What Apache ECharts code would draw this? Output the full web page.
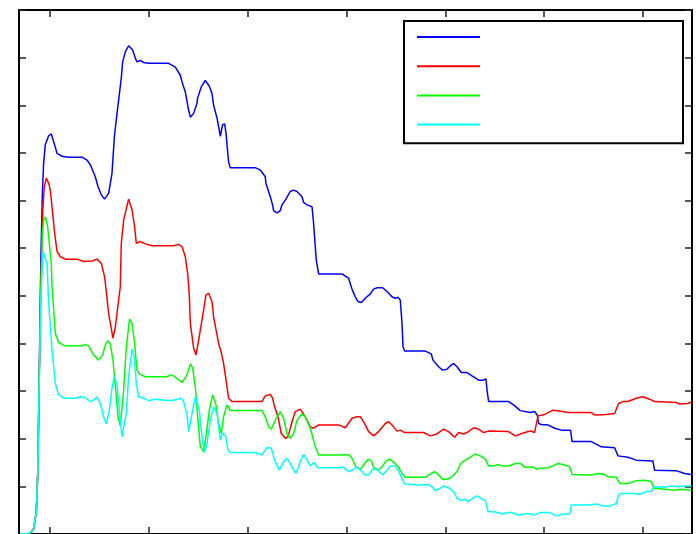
<!DOCTYPE html>
<html>
<head>
<meta charset="utf-8">
<script src="https://cdn.jsdelivr.net/npm/echarts@6/dist/echarts.min.js"></script>
<style>
  html, body { margin: 0; padding: 0; background: #fff; }
  #main { width: 696px; height: 534px; }
</style>
</head>
<body>
<div id="main"></div>
<script>
// 坐标轴刻度位置
var xTicks = [0, 100, 200, 300, 400, 500, 600];
var yTicks = [0, 1, 2, 3, 4, 5, 6, 7, 8, 9, 10, 11];

// 四条曲线共用的起始段
var startPart = [[-30, 0], [-22, 0], [-16.9, 0.08], [-13.9, 0.46], [-12.3, 1.34], [-11.3, 2.81]];

var blueData = [
    [-9.3, 5.75], [-7.8, 7.12], [-6.5, 7.78], [-4.8, 8.17], [-1.4, 8.36], [1.3, 8.40], [3.6, 8.24],
    [7.1, 7.99], [12.1, 7.93], [18.8, 7.91], [32.4, 7.91], [37.4, 7.85], [40.8, 7.75], [45.8, 7.50],
    [48.6, 7.29], [51.9, 7.12], [55.2, 7.03], [59.3, 7.15], [62.7, 7.57], [65.1, 8.34], [67.8, 8.83],
    [72.1, 9.57], [73.5, 9.91], [76.2, 10.12], [79.5, 10.25], [83.6, 10.16], [86.3, 9.99], [88.0, 9.91],
    [91.4, 9.94], [94.7, 9.90], [99.8, 9.88], [120.0, 9.88], [126.8, 9.80], [131.8, 9.63], [133.6, 9.49],
    [136.9, 9.28], [140.2, 8.90], [142.0, 8.75], [145.3, 8.83], [148.7, 9.04], [149.3, 9.15], [153.1, 9.39],
    [157.1, 9.52], [161.2, 9.40], [163.9, 9.25], [165.5, 9.00], [169.0, 8.73], [172.3, 8.35], [174.6, 8.59],
    [176.7, 8.61], [178.1, 8.41], [179.1, 8.17], [180.7, 7.81], [182.4, 7.69], [207.7, 7.69], [212.8, 7.64],
    [217.8, 7.50], [218.5, 7.36], [222.9, 7.08], [225.2, 6.91], [226.2, 6.79], [229.7, 6.74], [233.0, 6.79],
    [234.7, 6.91], [238.1, 7.01], [243.1, 7.19], [246.5, 7.22], [249.9, 7.19], [255.0, 7.08], [256.6, 6.96],
    [260.0, 6.91], [265.1, 6.87], [266.7, 6.52], [269.4, 5.75], [271.8, 5.46], [295.4, 5.46], [302.1, 5.37],
    [305.9, 5.12], [308.9, 4.98], [311.6, 4.88], [315.0, 4.86], [319.0, 4.95], [324.1, 5.04], [327.4, 5.14],
    [330.9, 5.17], [336.5, 5.17], [341.0, 5.09], [346.0, 4.98], [349.4, 4.95], [352.1, 4.97], [354.4, 4.91],
    [356.2, 4.42], [357.2, 3.93], [358.8, 3.84], [379.7, 3.84], [385.8, 3.78], [387.5, 3.65], [393.2, 3.51],
    [397.2, 3.44], [401.7, 3.46], [405.0, 3.53], [408.4, 3.58], [411.8, 3.51], [416.2, 3.39], [421.9, 3.39],
    [427.0, 3.32], [433.7, 3.23], [438.7, 3.23], [441.1, 3.26], [442.2, 3.02], [443.8, 2.78], [464.0, 2.78],
    [469.1, 2.71], [475.8, 2.59], [486.0, 2.55], [490.3, 2.57], [493.0, 2.50], [494.4, 2.32], [497.1, 2.30],
    [503.9, 2.29], [510.6, 2.22], [517.4, 2.18], [526.7, 2.18], [528.2, 1.94], [547.7, 1.94], [557.8, 1.83],
    [571.3, 1.81], [574.7, 1.64], [584.8, 1.61], [593.2, 1.55], [610.1, 1.53], [611.7, 1.34], [633.6, 1.33],
    [642.1, 1.27], [648.9, 1.25]
];

var redData = [
    [-9.3, 5.33], [-7.3, 6.80], [-5.8, 7.29], [-3.7, 7.47], [-1.4, 7.36], [0.3, 7.22], [2.0, 6.87],
    [4.7, 6.31], [7.1, 5.93], [10.4, 5.82], [15.5, 5.77], [27.3, 5.77], [34.0, 5.72], [42.5, 5.73],
    [47.6, 5.77], [51.9, 5.68], [55.2, 5.40], [56.0, 5.26], [59.3, 4.63], [63.7, 4.11], [66.1, 4.35],
    [71.1, 5.19], [72.1, 6.10], [74.5, 6.59], [79.5, 7.03], [83.0, 6.80], [85.6, 6.45], [87.3, 6.10],
    [91.4, 6.14], [96.4, 6.09], [103.2, 6.05], [125.1, 6.05], [130.1, 6.08], [133.6, 6.03], [136.9, 5.82],
    [139.4, 5.44], [140.9, 5.02], [142.0, 4.42], [145.3, 3.90], [147.7, 3.76], [150.4, 4.07], [155.4, 4.70],
    [157.8, 5.02], [160.5, 5.05], [163.9, 4.88], [165.5, 4.56], [170.6, 4.00], [173.3, 3.81], [175.6, 3.58],
    [178.1, 3.23], [180.7, 2.85], [184.1, 2.78], [214.5, 2.78], [217.8, 2.90], [222.9, 2.93], [225.2, 2.85],
    [227.2, 2.67], [230.7, 2.46], [234.0, 2.11], [238.1, 2.01], [240.8, 2.04], [244.9, 2.36], [248.2, 2.57],
    [253.3, 2.62], [258.3, 2.46], [263.4, 2.25], [266.7, 2.22], [271.8, 2.29], [292.0, 2.29], [298.8, 2.23],
    [305.6, 2.43], [310.6, 2.46], [314.0, 2.46], [317.3, 2.36], [322.4, 2.15], [327.4, 2.06], [332.5, 2.15],
    [339.3, 2.32], [342.6, 2.36], [346.0, 2.29], [351.1, 2.16], [354.4, 2.18], [358.8, 2.13], [378.0, 2.13],
    [384.8, 2.06], [391.6, 2.10], [398.2, 2.20], [403.3, 2.15], [409.4, 2.03], [413.4, 2.13], [418.5, 2.10],
    [423.5, 2.15], [428.6, 2.23], [433.7, 2.20], [438.7, 2.13], [443.8, 2.16], [464.0, 2.15], [470.8, 2.06],
    [477.6, 2.11], [483.7, 2.15], [487.0, 2.16], [490.3, 2.13], [492.0, 2.15], [493.8, 2.48], [495.4, 2.50],
    [500.5, 2.51], [509.0, 2.60], [515.7, 2.58], [524.2, 2.55], [547.7, 2.55], [551.1, 2.50], [562.9, 2.51],
    [571.3, 2.53], [575.3, 2.74], [579.8, 2.78], [584.8, 2.78], [593.2, 2.85], [600.0, 2.88], [606.7, 2.83],
    [611.7, 2.78], [633.6, 2.76], [637.0, 2.73], [645.4, 2.74], [649.4, 2.78]
];

var greenData = [
    [-9.3, 5.12], [-7.8, 6.28], [-6.5, 6.59], [-4.8, 6.66], [-2.4, 6.45], [-1.4, 6.24], [1.3, 5.68],
    [2.0, 5.19], [5.4, 4.21], [8.7, 4.02], [15.5, 3.95], [32.4, 3.95], [35.7, 3.98], [39.1, 3.95],
    [44.1, 3.76], [49.2, 3.65], [53.2, 3.76], [56.0, 3.97], [58.7, 4.06], [61.0, 3.99], [63.7, 3.65],
    [66.1, 3.09], [68.8, 2.46], [71.1, 2.27], [74.5, 3.02], [77.2, 3.93], [80.5, 4.51], [83.0, 4.42],
    [85.6, 4.00], [88.0, 3.44], [90.4, 3.36], [96.4, 3.30], [118.4, 3.30], [121.7, 3.34], [125.1, 3.32],
    [133.6, 3.18], [138.6, 3.34], [142.0, 3.57], [144.3, 3.48], [147.0, 3.09], [149.7, 2.39], [152.1, 1.83],
    [155.4, 1.73], [157.8, 2.04], [161.2, 2.60], [164.5, 2.92], [167.9, 2.71], [170.6, 2.32], [173.3, 2.11],
    [175.6, 2.46], [179.1, 2.71], [182.4, 2.59], [214.5, 2.59], [217.8, 2.46], [221.2, 2.25], [223.9, 2.20],
    [227.9, 2.39], [233.0, 2.57], [236.4, 2.43], [239.8, 2.11], [243.1, 2.01], [246.5, 2.11], [249.9, 2.39],
    [255.0, 2.52], [258.3, 2.46], [263.4, 2.22], [268.4, 1.83], [271.8, 1.66], [297.1, 1.66], [302.1, 1.67],
    [305.6, 1.59], [309.6, 1.41], [314.0, 1.36], [317.3, 1.45], [321.8, 1.57], [325.1, 1.54], [327.4, 1.40],
    [331.9, 1.33], [335.9, 1.41], [340.0, 1.53], [343.6, 1.57], [347.7, 1.51], [352.7, 1.40], [356.2, 1.27],
    [359.5, 1.19], [379.7, 1.19], [384.8, 1.26], [389.1, 1.31], [393.2, 1.24], [397.2, 1.15], [401.7, 1.15],
    [406.7, 1.20], [411.8, 1.31], [416.2, 1.50], [420.2, 1.55], [425.3, 1.61], [429.7, 1.68], [435.4, 1.64],
    [440.5, 1.57], [443.8, 1.43], [448.8, 1.43], [453.3, 1.46], [457.3, 1.43], [464.0, 1.43], [470.8, 1.48],
    [475.8, 1.48], [480.8, 1.40], [486.0, 1.40], [488.7, 1.41], [492.0, 1.36], [495.4, 1.38], [503.9, 1.39],
    [509.0, 1.43], [514.0, 1.48], [520.7, 1.45], [525.8, 1.41], [528.2, 1.25], [547.7, 1.24], [554.5, 1.27],
    [559.6, 1.26], [564.6, 1.20], [573.0, 1.19], [576.4, 1.06], [584.8, 1.06], [593.2, 1.12], [601.6, 1.13],
    [608.4, 1.10], [611.1, 0.96], [621.9, 0.94], [632.0, 0.92], [638.8, 0.94], [648.9, 0.92]
];

var cyanData = [
    [-9.3, 4.91], [-7.1, 5.93], [-5.5, 5.95], [-3.0, 5.68], [-1.4, 4.84], [2.0, 3.86], [5.4, 3.16],
    [8.7, 2.92], [13.8, 2.85], [25.6, 2.85], [30.7, 2.88], [35.7, 2.86], [40.8, 2.78], [44.1, 2.81],
    [47.6, 2.88], [50.9, 2.74], [54.2, 2.46], [57.0, 2.31], [60.0, 2.60], [62.7, 3.06], [65.1, 3.32],
    [67.8, 3.13], [70.1, 2.60], [72.8, 2.04], [74.5, 2.06], [77.2, 2.53], [79.5, 3.30], [83.0, 3.88],
    [85.3, 3.69], [87.3, 3.16], [89.6, 2.88], [94.7, 2.85], [99.8, 2.80], [106.5, 2.83], [118.4, 2.80],
    [123.4, 2.80], [128.5, 2.83], [132.5, 2.85], [135.2, 2.78], [138.6, 2.50], [140.2, 2.15], [143.7, 2.53],
    [147.0, 2.88], [148.7, 2.92], [151.1, 2.60], [153.8, 2.04], [156.4, 1.71], [158.9, 1.90], [162.2, 2.39],
    [165.5, 2.67], [169.0, 2.53], [172.3, 1.97], [174.6, 2.11], [177.4, 2.08], [180.1, 1.76], [182.4, 1.71],
    [207.7, 1.71], [214.5, 1.66], [219.6, 1.82], [223.9, 1.80], [227.9, 1.52], [232.0, 1.34], [236.4, 1.52],
    [239.8, 1.59], [244.9, 1.41], [248.9, 1.27], [253.3, 1.52], [256.6, 1.67], [260.0, 1.55], [263.4, 1.43],
    [266.7, 1.50], [271.2, 1.39], [292.0, 1.39], [297.1, 1.40], [302.1, 1.31], [307.2, 1.36], [310.6, 1.41],
    [315.7, 1.31], [319.0, 1.24], [322.4, 1.24], [325.8, 1.34], [329.1, 1.38], [332.5, 1.33], [336.5, 1.24],
    [341.0, 1.34], [344.3, 1.43], [348.7, 1.43], [352.1, 1.34], [355.4, 1.20], [358.8, 1.05], [376.4, 1.03],
    [382.5, 1.04], [386.5, 0.99], [389.9, 0.91], [394.9, 0.96], [398.2, 1.01], [403.3, 0.97], [408.4, 0.89],
    [411.8, 0.75], [416.2, 0.70], [419.5, 0.73], [423.0, 0.68], [427.6, 0.75], [432.1, 0.80], [437.1, 0.73],
    [440.5, 0.70], [443.2, 0.47], [450.6, 0.46], [457.4, 0.42], [462.5, 0.45], [467.5, 0.45], [473.6, 0.40],
    [479.3, 0.42], [483.7, 0.43], [490.3, 0.40], [495.4, 0.45], [505.5, 0.45], [512.3, 0.38], [519.1, 0.42],
    [525.8, 0.42], [527.5, 0.61], [544.4, 0.61], [552.8, 0.63], [559.6, 0.59], [566.3, 0.59], [573.0, 0.64],
    [575.3, 0.82], [578.1, 0.85], [591.5, 0.85], [596.6, 0.83], [603.4, 0.89], [608.4, 0.89], [611.1, 0.99],
    [621.9, 0.98], [628.7, 1.01], [635.5, 0.99], [642.1, 1.01], [648.9, 1.01]
];

var seriesNames = ['s1', 's2', 's3', 's4'];
var seriesColors = ['#0000ff', '#ff0000', '#00ff00', '#00ffff'];
var seriesData = [blueData, redData, greenData, cyanData];

var myChart = echarts.init(document.getElementById('main'));

function makeXAxis(pos) {
    return {
        type: 'value',
        position: pos,
        min: -31.4,
        max: 649.6,
        axisLine: { show: true, onZero: false, lineStyle: { color: '#000', width: 2 } },
        axisTick: { show: true, inside: true, length: 7, customValues: xTicks, lineStyle: { color: '#222', width: 1.5 } },
        axisLabel: { show: false },
        splitLine: { show: false }
    };
}

function makeYAxis(pos) {
    return {
        type: 'value',
        position: pos,
        min: 0,
        max: 11,
        interval: 1,
        axisLine: { show: true, onZero: false, lineStyle: { color: '#000', width: 2 } },
        axisTick: { show: true, inside: true, length: 7, lineStyle: { color: '#222', width: 1.5 } },
        axisLabel: { show: false },
        splitLine: { show: false }
    };
}

var series = [];
for (var i = 0; i < seriesData.length; i++) {
    series.push({
        name: seriesNames[i],
        type: 'line',
        symbol: 'none',
        data: startPart.concat(seriesData[i]),
        lineStyle: { color: seriesColors[i], width: 1.5 },
        itemStyle: { color: seriesColors[i] }
    });
}

var option = {
    animation: false,
    backgroundColor: '#fff',
    grid: { left: 19, right: 4, top: 10, bottom: 0 },
    legend: {
        orient: 'vertical',
        left: 404,
        top: 21,
        itemWidth: 63,
        itemHeight: 14,
        itemGap: 16.6,
        padding: [9, 202, 13, 12],
        borderColor: '#000',
        borderWidth: 2,
        backgroundColor: '#fff',
        itemStyle: { opacity: 0 },
        formatter: function () { return ''; },
        data: seriesNames
    },
    xAxis: [makeXAxis('bottom'), makeXAxis('top')],
    yAxis: [makeYAxis('left'), makeYAxis('right')],
    series: series
};

myChart.setOption(option);
</script>
</body>
</html>
